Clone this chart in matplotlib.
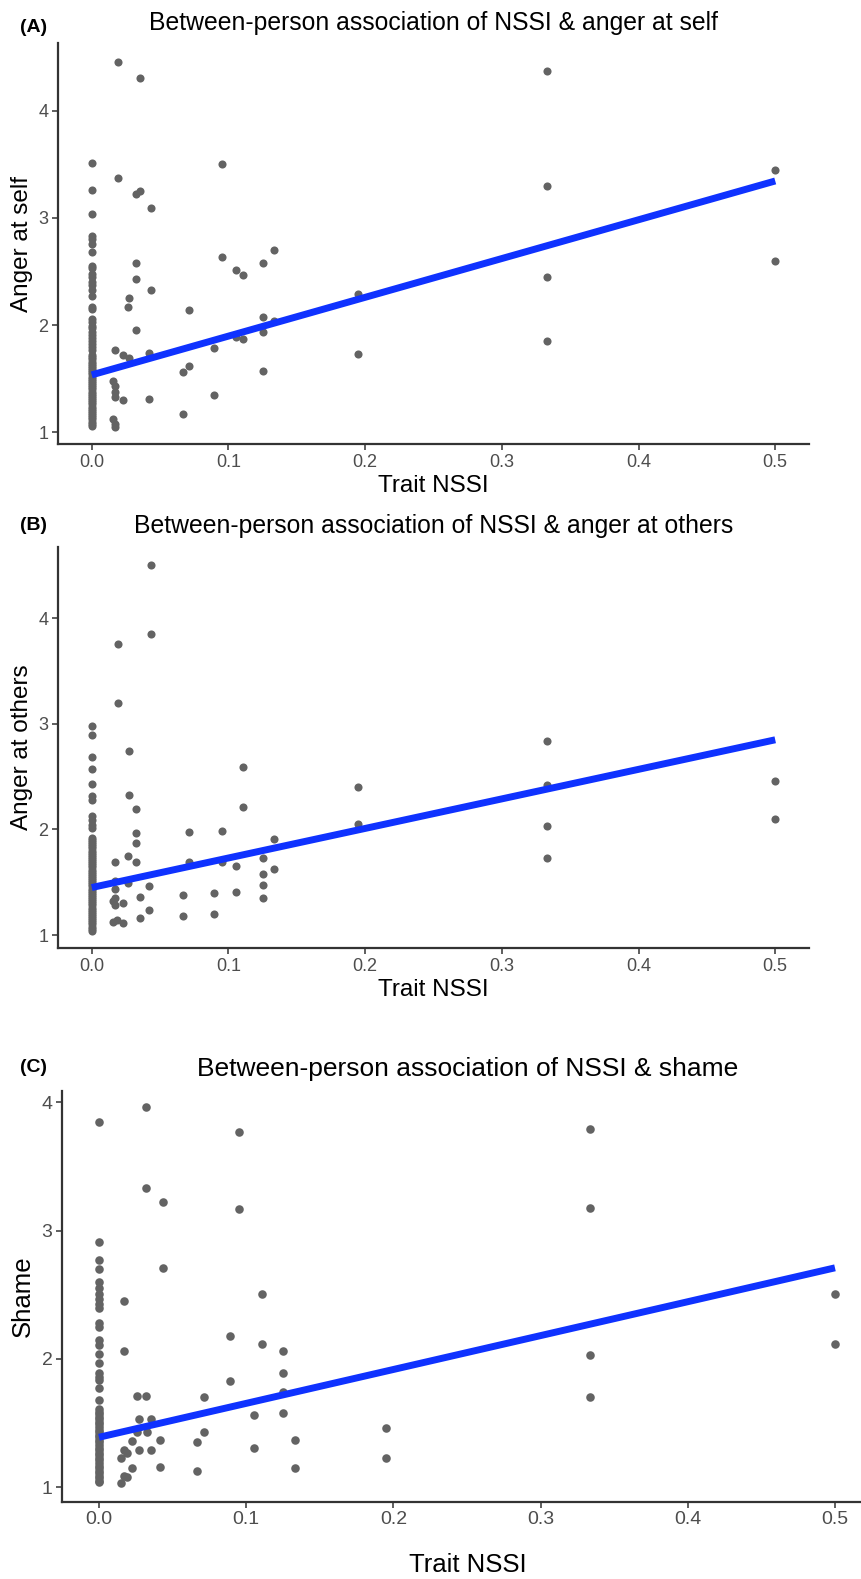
import matplotlib
matplotlib.use('Agg')
import matplotlib.pyplot as plt
import numpy as np

plt.rcParams['font.family'] = ['Liberation Sans', 'DejaVu Sans']

# ---- data ----
x_ticks = [0.0, 0.1, 0.2, 0.3, 0.4, 0.5]
x_tick_labels = ['0.0', '0.1', '0.2', '0.3', '0.4', '0.5']

# (A) anger at self
a_zero_y = [3.51, 3.26, 3.04, 2.83, 2.80, 2.76, 2.68, 2.55, 2.53, 2.48, 2.45, 2.40,
            2.37, 2.33, 2.27, 2.17, 2.15, 2.06, 2.03, 1.99, 1.97, 1.94, 1.91, 1.88,
            1.85, 1.82, 1.80, 1.77, 1.72, 1.70, 1.68, 1.66, 1.64, 1.62, 1.60, 1.58,
            1.56, 1.54, 1.52, 1.50, 1.48, 1.46, 1.44, 1.42, 1.40, 1.38, 1.36, 1.34,
            1.32, 1.30, 1.28, 1.26, 1.24, 1.22, 1.20, 1.18, 1.16, 1.14, 1.12, 1.10,
            1.08, 1.06]
a_x = [0.0195, 0.0354, 0.0195, 0.0324, 0.0354, 0.0434, 0.0954, 0.0954, 0.1056, 0.111,
       0.125, 0.1334, 0.0324, 0.0324, 0.0434, 0.0273, 0.0263, 0.0715, 0.0324, 0.125,
       0.125, 0.1334, 0.1056, 0.111, 0.0895, 0.0171, 0.0232, 0.0273, 0.042, 0.0715,
       0.0666, 0.125, 0.1946, 0.1946, 0.0159, 0.0171, 0.0171, 0.0171, 0.0232, 0.042,
       0.0895, 0.0666, 0.0159, 0.0171, 0.0171,
       0.3333, 0.3333, 0.3333, 0.3333, 0.5, 0.5]
a_y = [4.46, 4.31, 3.37, 3.22, 3.25, 3.09, 3.50, 2.64, 2.51, 2.47,
       2.58, 2.70, 2.58, 2.43, 2.33, 2.25, 2.17, 2.14, 1.95, 2.08,
       1.94, 2.04, 1.89, 1.87, 1.79, 1.77, 1.72, 1.69, 1.74, 1.62,
       1.56, 1.57, 2.29, 1.73, 1.48, 1.43, 1.38, 1.33, 1.30, 1.31,
       1.35, 1.17, 1.12, 1.08, 1.05,
       4.37, 3.30, 2.45, 1.85, 3.45, 2.60]
a_fit = [1.535, 3.345]

# (B) anger at others
b_zero_y = [2.98, 2.90, 2.69, 2.57, 2.43, 2.32, 2.28, 2.13, 2.09, 2.04, 2.01, 1.92,
            1.90, 1.88, 1.86, 1.84, 1.82, 1.80, 1.78, 1.76, 1.74, 1.72, 1.70, 1.68,
            1.66, 1.64, 1.62, 1.60, 1.58, 1.56, 1.54, 1.52, 1.50, 1.48, 1.46, 1.44,
            1.42, 1.40, 1.38, 1.36, 1.34, 1.32, 1.30, 1.28, 1.26, 1.24, 1.22, 1.20,
            1.18, 1.16, 1.14, 1.12, 1.10, 1.08, 1.06, 1.04]
b_x = [0.0434, 0.0434, 0.0195, 0.0195, 0.0273, 0.111, 0.1946, 0.0273, 0.0324, 0.111,
       0.1946, 0.0324, 0.0324, 0.0715, 0.0954, 0.1334, 0.0171, 0.0263, 0.0324, 0.0715,
       0.0954, 0.1056, 0.125, 0.125, 0.1334, 0.0171, 0.0171, 0.0263, 0.042, 0.125,
       0.0354, 0.0666, 0.0895, 0.1056, 0.125, 0.0159, 0.0171, 0.0171, 0.0232, 0.042,
       0.0666, 0.0895, 0.0354, 0.0159, 0.0183, 0.0232,
       0.3333, 0.3333, 0.3333, 0.3333, 0.5, 0.5]
b_y = [4.51, 3.85, 3.76, 3.20, 2.74, 2.59, 2.40, 2.33, 2.19, 2.21,
       2.05, 1.97, 1.87, 1.98, 1.99, 1.91, 1.69, 1.75, 1.69, 1.69,
       1.69, 1.65, 1.73, 1.58, 1.63, 1.51, 1.44, 1.49, 1.46, 1.47,
       1.36, 1.38, 1.40, 1.41, 1.35, 1.32, 1.35, 1.28, 1.30, 1.24,
       1.18, 1.20, 1.16, 1.12, 1.14, 1.11,
       2.84, 2.42, 2.03, 1.73, 2.46, 2.10]
b_fit = [1.45, 2.85]

# (C) shame
c_zero_y = [3.85, 2.91, 2.77, 2.70, 2.60, 2.55, 2.51, 2.47, 2.43, 2.40, 2.28, 2.25,
            2.15, 2.11, 2.04, 1.97, 1.89, 1.86, 1.84, 1.77, 1.68, 1.61, 1.59, 1.57,
            1.55, 1.53, 1.51, 1.49, 1.47, 1.45, 1.43, 1.41, 1.39, 1.37, 1.35, 1.33,
            1.31, 1.29, 1.27, 1.25, 1.23, 1.21, 1.19, 1.17, 1.15, 1.13, 1.11, 1.09,
            1.07, 1.05, 1.04]
c_x = [0.032, 0.095, 0.032, 0.0433, 0.095, 0.0433, 0.111, 0.0168, 0.0891, 0.111,
       0.125, 0.0168, 0.125, 0.0891, 0.0261, 0.032, 0.0714, 0.125, 0.0272, 0.0351,
       0.1054, 0.125, 0.0261, 0.0324, 0.0714, 0.0224, 0.0415, 0.1333, 0.1948, 0.0664,
       0.1054, 0.0168, 0.0188, 0.015, 0.0272, 0.0351, 0.1948, 0.0224, 0.0415, 0.1333,
       0.0664, 0.0168, 0.0188, 0.015,
       0.3333, 0.3333, 0.3333, 0.3333, 0.5, 0.5]
c_y = [3.96, 3.77, 3.33, 3.22, 3.17, 2.71, 2.51, 2.45, 2.18, 2.12,
       2.06, 2.06, 1.89, 1.83, 1.71, 1.71, 1.70, 1.74, 1.53, 1.53,
       1.56, 1.58, 1.43, 1.43, 1.43, 1.36, 1.37, 1.37, 1.46, 1.35,
       1.31, 1.29, 1.27, 1.23, 1.29, 1.29, 1.23, 1.15, 1.16, 1.15,
       1.13, 1.09, 1.08, 1.03,
       3.79, 3.18, 2.03, 1.70, 2.51, 2.12]
c_fit = [1.39, 2.71]

fit_x = [0.0, 0.5]

W, H = 861, 1579
fig = plt.figure(figsize=(W / 100, H / 100), dpi=100)

point_color = '#636363'
line_color = '#0F32FF'
axis_color = '#333333'
tick_color = '#4D4D4D'

panels = [
    # label, title, ylabel, zero_y, x, y, fit, rect(px: left, top, right, bottom), ylim, xlim,
    # title x px, title baseline px, label baseline px, font sizes (title, label, tick), marker size
    ('(A)', 'Between-person association of NSSI & anger at self', 'Anger at self',
     a_zero_y, a_x, a_y, a_fit, (58, 43.3, 809.4, 444), (0.89, 4.63), (-0.0247, 0.525),
     433.5, 30, 31.5, (17.8, 17.5, 13), 34),
    ('(B)', 'Between-person association of NSSI & anger at others', 'Anger at others',
     b_zero_y, b_x, b_y, b_fit, (58, 546.7, 809.4, 948.3), (0.874, 4.68), (-0.0247, 0.525),
     433.5, 533.3, 530, (17.8, 17.5, 13), 34),
    ('(C)', 'Between-person association of NSSI & shame', 'Shame',
     c_zero_y, c_x, c_y, c_fit, (62.3, 1090.7, 860, 1501.7), (0.888, 4.09), (-0.0249, 0.517),
     467.5, 1075.7, 1071.7, (19, 18.5, 14), 38),
]

for (lab, title, ylab, zero_y, xs, ys, fit, rect, ylim, xlim,
     tx, tby, lby, fs, ms) in panels:
    l, t, r, b = rect
    ax = fig.add_axes([l / W, 1 - b / H, (r - l) / W, (b - t) / H])
    ax.scatter(np.zeros(len(zero_y)), zero_y, s=ms, color=point_color,
               linewidths=0, zorder=2)
    ax.scatter(xs, ys, s=ms, color=point_color, linewidths=0, zorder=2)
    ax.plot(fit_x, fit, color=line_color, linewidth=5, solid_capstyle='butt', zorder=3)
    ax.set_xlim(*xlim)
    ax.set_ylim(*ylim)
    ax.set_xticks(x_ticks)
    ax.set_xticklabels(x_tick_labels)
    ax.set_yticks([1, 2, 3, 4])
    ax.set_yticklabels(['1', '2', '3', '4'])
    for side in ('top', 'right'):
        ax.spines[side].set_visible(False)
    for side in ('left', 'bottom'):
        ax.spines[side].set_color(axis_color)
        ax.spines[side].set_linewidth(1.6)
    ax.tick_params(length=4, width=1.1, color=axis_color, labelcolor=tick_color,
                   labelsize=fs[2], pad=3)
    ax.set_xlabel('Trait NSSI', fontsize=fs[1], color='black', va='baseline')
    ax.set_ylabel(ylab, fontsize=fs[1], color='black', va='center')
    ax_h = b - t
    ax_w = r - l
    if lab == '(C)':
        # kept just inside the bottom edge
        ax.xaxis.set_label_coords(0.5 + (467.5 - (l + r) / 2) / ax_w, -70 / ax_h)
        ax.yaxis.set_label_coords((23 - l) / ax_w, 0.5)
    else:
        ax.xaxis.set_label_coords(0.5, -47.5 / ax_h)
        ax.yaxis.set_label_coords((22 - l) / ax_w, 0.5)
    fig.text(tx / W, 1 - tby / H, title, fontsize=fs[0], ha='center', va='baseline')
    fig.text(20 / W, 1 - lby / H, lab, fontsize=14, fontweight='bold', ha='left',
             va='baseline')

fig.savefig('out.png', dpi=100)
